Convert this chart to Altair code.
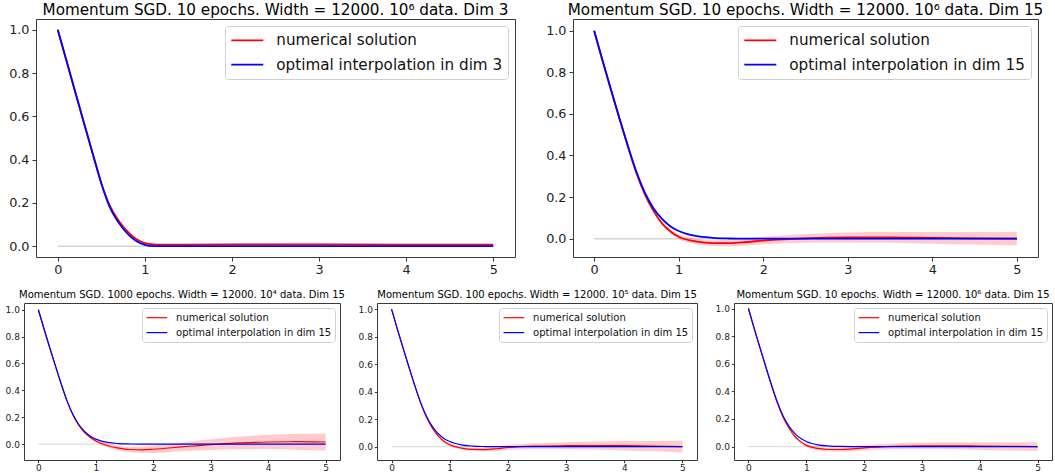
import altair as alt
import pandas as pd

# ---- Dim 3 run -------------------------------------------------------------
X_D3 = [0.0, 0.1, 0.2, 0.3, 0.4, 0.5, 0.6, 0.7, 0.8, 0.9, 1.0, 1.1, 1.2, 1.5, 2.0, 3.0, 4.0, 5.0]
BLUE_D3 = [1.0, 0.857, 0.714, 0.571, 0.43, 0.29, 0.178, 0.108, 0.058, 0.024, 0.006, 0.0, 0.0, 0.0, 0.0, 0.0, 0.0, 0.0]
RED_D3 = [1.0, 0.857, 0.714, 0.571, 0.43, 0.291, 0.185, 0.118, 0.068, 0.033, 0.014, 0.008, 0.007, 0.007, 0.008, 0.008, 0.007, 0.007]
BAND_D3 = [0.0, 0.001, 0.001, 0.001, 0.001, 0.001, 0.002, 0.002, 0.002, 0.002, 0.002, 0.002, 0.002, 0.002, 0.002, 0.003, 0.003, 0.003]

# ---- Dim 15 runs -----------------------------------------------------------
X_D15 = [0.0, 0.1, 0.2, 0.3, 0.4, 0.5, 0.6, 0.7, 0.8, 0.9, 1.0, 1.2, 1.4, 1.6, 1.8, 2.0, 2.5, 3.0, 3.5, 4.0, 4.5, 5.0]
BLUE_D15 = [1.0, 0.855, 0.715, 0.578, 0.445, 0.322, 0.222, 0.148, 0.096, 0.060, 0.037, 0.013, 0.004, 0.001, 0.0, 0.0,
            0.0, 0.0, 0.0, 0.0, 0.0, 0.0]

# 10 epochs, 10^6 data
RED_E10 = [1.0, 0.855, 0.715, 0.577, 0.442, 0.316, 0.213, 0.135, 0.075, 0.036, 0.009, -0.013, -0.021, -0.021, -0.016,
           -0.009, 0.002, 0.006, 0.006, 0.004, 0.002, 0.0]
BAND_E10 = [0.0, 0.001, 0.001, 0.002, 0.002, 0.003, 0.005, 0.006, 0.008, 0.009, 0.011, 0.013, 0.014, 0.016, 0.017,
            0.018, 0.021, 0.024, 0.026, 0.028, 0.030, 0.032]

# 1000 epochs, 10^4 data
RED_E1000 = [1.0, 0.855, 0.715, 0.578, 0.444, 0.32, 0.218, 0.143, 0.089, 0.051, 0.024, -0.010, -0.030, -0.040, -0.042,
             -0.038, -0.020, -0.003, 0.009, 0.016, 0.018, 0.016]
BAND_E1000 = [0.0, 0.001, 0.002, 0.002, 0.003, 0.004, 0.006, 0.008, 0.009, 0.011, 0.012, 0.015, 0.018, 0.021, 0.024,
              0.027, 0.033, 0.040, 0.047, 0.053, 0.059, 0.064]

# 100 epochs, 10^5 data
RED_E100 = [1.0, 0.855, 0.715, 0.577, 0.442, 0.317, 0.214, 0.137, 0.079, 0.040, 0.014, -0.010, -0.020, -0.021, -0.015,
            -0.006, 0.004, 0.007, 0.008, 0.007, 0.004, 0.0]
BAND_E100 = [0.0, 0.001, 0.001, 0.002, 0.002, 0.003, 0.004, 0.006, 0.007, 0.008, 0.010, 0.011, 0.012, 0.014, 0.016,
             0.018, 0.021, 0.025, 0.029, 0.034, 0.038, 0.043]

FONT = "DejaVu Sans"
FRAME = "#3a3a3a"
X_TICKS = [0, 1, 2, 3, 4, 5]
Y_TICKS = [0.0, 0.2, 0.4, 0.6, 0.8, 1.0]
# legend line glyph: starts at the symbol's left edge and runs four half-widths to the right
LINE_GLYPH = "M-1,0L3,0"


def panel(title, xs, blue, red, band, dim, width, height, ydom, big, y_extent):
    s = 1.0 if big else 0.66
    title_fs = 15.2 if big else 10.0
    tick_fs = 12.8 if big else 9.0
    legend_fs = 15.2 if big else 10.0
    lw = 1.8 if big else 1.2

    red_lab = "numerical solution"
    blue_lab = f"optimal interpolation in dim {dim}"

    red_df = pd.DataFrame({"x": xs, "y": red, "series": red_lab,
                           "lo": [r - b for r, b in zip(red, band)],
                           "hi": [r + b for r, b in zip(red, band)]})
    blue_df = pd.DataFrame({"x": xs, "y": blue, "series": blue_lab})
    zero_df = pd.DataFrame({"x": [0.0], "x2": [5.0], "y": [0.0]})

    xscale = alt.Scale(domain=[-0.25, 5.25], nice=False, zero=False)
    yscale = alt.Scale(domain=ydom, nice=False, zero=False)
    x_extent = 18 if big else 14
    xaxis = alt.Axis(values=X_TICKS, format="d", title=None, grid=False, domain=False,
                     tickSize=4 * s, tickColor=FRAME, labelFontSize=tick_fs, labelFont=FONT,
                     labelColor="#222222", labelPadding=2 * s, labelFlush=False,
                     minExtent=x_extent, maxExtent=x_extent)
    yaxis = alt.Axis(values=Y_TICKS, format=".1f", title=None, grid=False, domain=False,
                     tickSize=4 * s, tickColor=FRAME, labelFontSize=tick_fs, labelFont=FONT,
                     labelColor="#222222", labelPadding=3 * s, labelFlush=False,
                     minExtent=y_extent, maxExtent=y_extent)

    def X(field="x"):
        return alt.X(f"{field}:Q", scale=xscale, axis=xaxis)

    def Y(field="y"):
        return alt.Y(f"{field}:Q", scale=yscale, axis=yaxis)

    if big:
        sym, lab_off, row_pad, pad, off = 16.0, 28.0, 6.4, 5.3, 7
    else:
        sym, lab_off, row_pad, pad, off = 10.35, 18.4, 3.9, 3.7, 5
    legend = alt.Legend(
        title=None, orient="top-right", offset=off,
        symbolType=LINE_GLYPH, symbolSize=sym ** 2, symbolStrokeWidth=lw,
        symbolFillColor="transparent",
        labelFont=FONT, labelFontSize=legend_fs, labelColor="#111111", labelLimit=500,
        labelOffset=lab_off, rowPadding=row_pad, padding=pad,
        strokeColor="#d0d0d0", fillColor="white", cornerRadius=3,
    )
    color = alt.Color("series:N",
                      scale=alt.Scale(domain=[red_lab, blue_lab], range=["red", "blue"]),
                      legend=legend)

    zero = alt.Chart(zero_df).mark_rule(color="#d4d4d4", strokeWidth=1.5 * s).encode(
        x=X(), x2="x2:Q", y=Y())
    area = alt.Chart(red_df).mark_area(color="#ff0000", opacity=0.2, interpolate="monotone").encode(
        x=X(), y=Y("lo"), y2="hi:Q")
    red_line = alt.Chart(red_df).mark_line(strokeWidth=lw, interpolate="monotone").encode(
        x=X(), y=Y(), color=color)
    blue_line = alt.Chart(blue_df).mark_line(strokeWidth=lw, interpolate="monotone").encode(
        x=X(), y=Y(), color=color)

    return alt.layer(zero, area, red_line, blue_line).properties(
        width=width, height=height,
        title=alt.TitleParams(title, fontSize=title_fs, font=FONT, fontWeight="normal",
                              color="black", anchor="middle", offset=1 if big else 3),
    )


def indep(c):
    return c.resolve_scale(x="independent", y="independent", color="independent").resolve_legend(
        color="independent")


p1 = panel("Momentum SGD. 10 epochs. Width = 12000. 10⁶ data. Dim 3",
           X_D3, BLUE_D3, RED_D3, BAND_D3, 3, 479, 238, [-0.05, 1.05], True, 31)
p2 = panel("Momentum SGD. 10 epochs. Width = 12000. 10⁶ data. Dim 15",
           X_D15, BLUE_D15, RED_E10, BAND_E10, 15, 465, 238, [-0.088, 1.056], True, 31)
p3 = panel("Momentum SGD. 1000 epochs. Width = 12000. 10⁴ data. Dim 15",
           X_D15, BLUE_D15, RED_E1000, BAND_E1000, 15, 316, 157, [-0.118, 1.05], False, 19)
p4 = panel("Momentum SGD. 100 epochs. Width = 12000. 10⁵ data. Dim 15",
           X_D15, BLUE_D15, RED_E100, BAND_E100, 15, 320, 157, [-0.097, 1.045], False, 19)
p5 = panel("Momentum SGD. 10 epochs. Width = 12000. 10⁶ data. Dim 15",
           X_D15, BLUE_D15, RED_E10, BAND_E10, 15, 318, 157, [-0.097, 1.04], False, 19)

# empty 1-px cell that indents the upper row relative to the lower row
spacer = alt.Chart(pd.DataFrame({"a": [0]})).mark_point(opacity=0).encode(
    x=alt.value(0), y=alt.value(0)
).properties(width=1, height=1, view=alt.ViewBackground(stroke="transparent"))

top_pair = indep(alt.hconcat(p1, p2, spacing=58, bounds="flush"))
top_row = indep(alt.hconcat(spacer, top_pair, spacing=11, bounds="flush"))
bottom_row = indep(alt.hconcat(p3, p4, p5, spacing=37, bounds="flush"))

chart = indep(alt.vconcat(top_row, bottom_row, spacing=12)).properties(
    padding={"left": 4, "top": 2, "right": 0, "bottom": 0},
    background="white",
).configure_view(stroke=FRAME, strokeWidth=1)

chart.save("out.html", embed_options={"renderer": "svg", "actions": False})
